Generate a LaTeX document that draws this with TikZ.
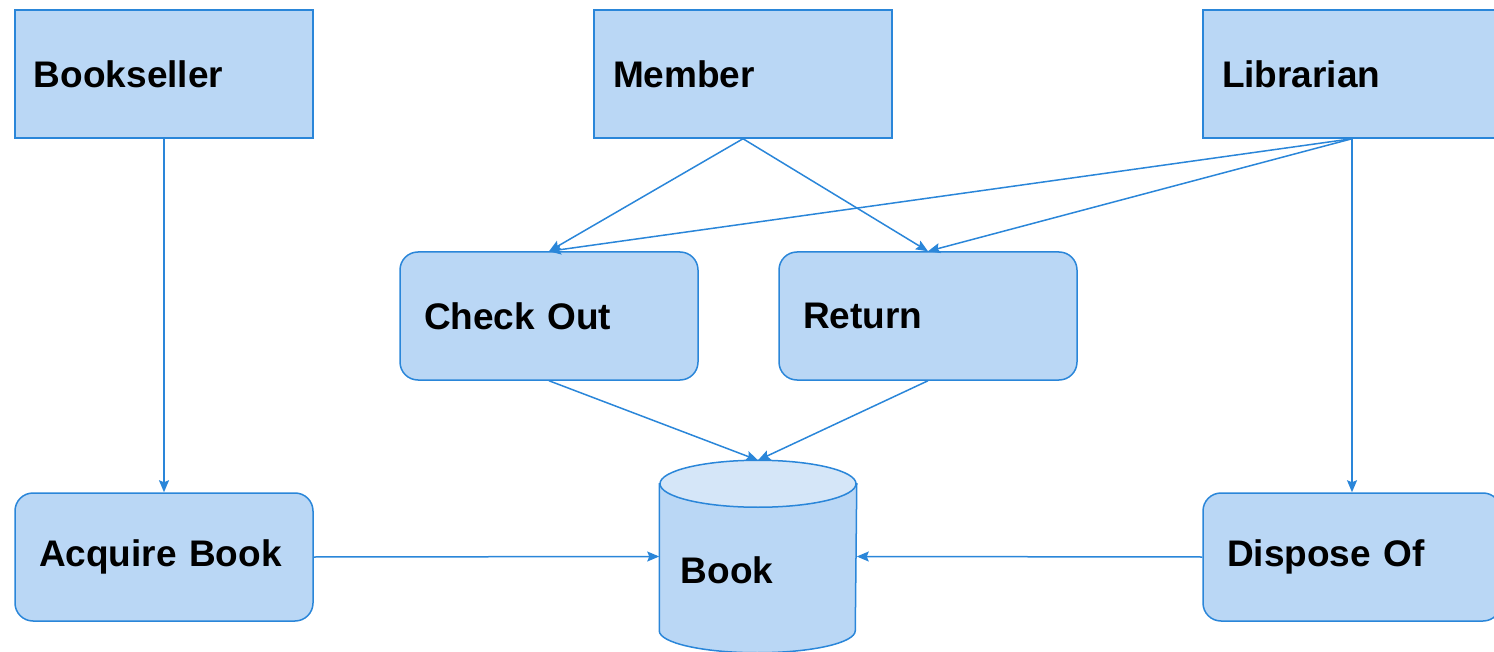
\documentclass[tikz,border=0pt]{standalone}
\usepackage{fontspec}
\setmainfont{Liberation Sans}
\usepackage{xcolor}
\usetikzlibrary{arrows.meta}

\definecolor{boxfill}{HTML}{BAD7F5}
\definecolor{boxline}{HTML}{2A86D9}
\definecolor{capfill}{HTML}{D5E6F8}

\begin{document}
\begin{tikzpicture}[x=1pt, y=1pt, line width=1.5pt,
    label font/.style = {font=\bfseries\fontsize{37}{40}\selectfont},
    actor/.style = {draw=boxline, fill=boxfill, rectangle, minimum width=298pt, minimum height=128pt,
                    text width=260pt, align=left, inner xsep=18pt, label font},
    usecase/.style = {actor, rounded corners=18pt, inner xsep=23pt, text width=250pt},
    store/.style = {rectangle, minimum width=196pt, minimum height=191pt, inner sep=0pt},
    flow/.style = {draw=boxline, -{Stealth[length=12pt,width=10pt,inset=2pt]}}]
    \useasboundingbox (0,0) rectangle (1494,-652);
    \begin{scope}
    \clip (0,0) rectangle (1494,-652);
    \node[actor]   (bookseller) at (164,-74)  {Bookseller};
    \node[actor]   (member)     at (743,-74)  {Member};
    \node[actor]   (librarian)  at (1352,-74) {Librarian};
    \node[usecase] (checkout)   at (549,-316) {Check Out};
    \node[usecase] (return)     at (928,-316) {Return};
    \node[usecase] (acquire)    at (164,-557) {Acquire Book};
    \node[usecase] (dispose)    at (1352,-557) {Dispose Of};
    \node[store]   (book)       at (758,-556.5) {};
    % the cylinder round the book store
    \draw[boxline, fill=boxfill] ([yshift=-23.5pt]book.north west) -- ([yshift=22pt]book.south west)
        arc[start angle=180, end angle=360, x radius=98pt, y radius=22pt]
        -- ([yshift=-23.5pt]book.north east) -- cycle;
    \draw[boxline, fill=capfill] ([yshift=-23.5pt]book.north) ellipse[x radius=98pt, y radius=23.5pt];
    \node[anchor=west, inner sep=0pt, label font] (booktext) at (680,-570) {Book};
    \end{scope}
    \draw[flow] (bookseller.south) -- (acquire.north);
    \draw[flow] (member.south) -- (checkout.north);
    \draw[flow] (member.south) -- (return.north);
    \draw[flow] (librarian.south) -- (checkout.north);
    \draw[flow] (librarian.south) -- (return.north);
    \draw[flow] (librarian.south) -- (dispose.north);
    \draw[flow] (checkout.south) -- (book.north);
    \draw[flow] (return.south) -- (book.north);
    \draw[flow] (acquire.east) -- (book.west);
    \draw[flow] (dispose.west) -- (book.east);
\end{tikzpicture}
\end{document}
